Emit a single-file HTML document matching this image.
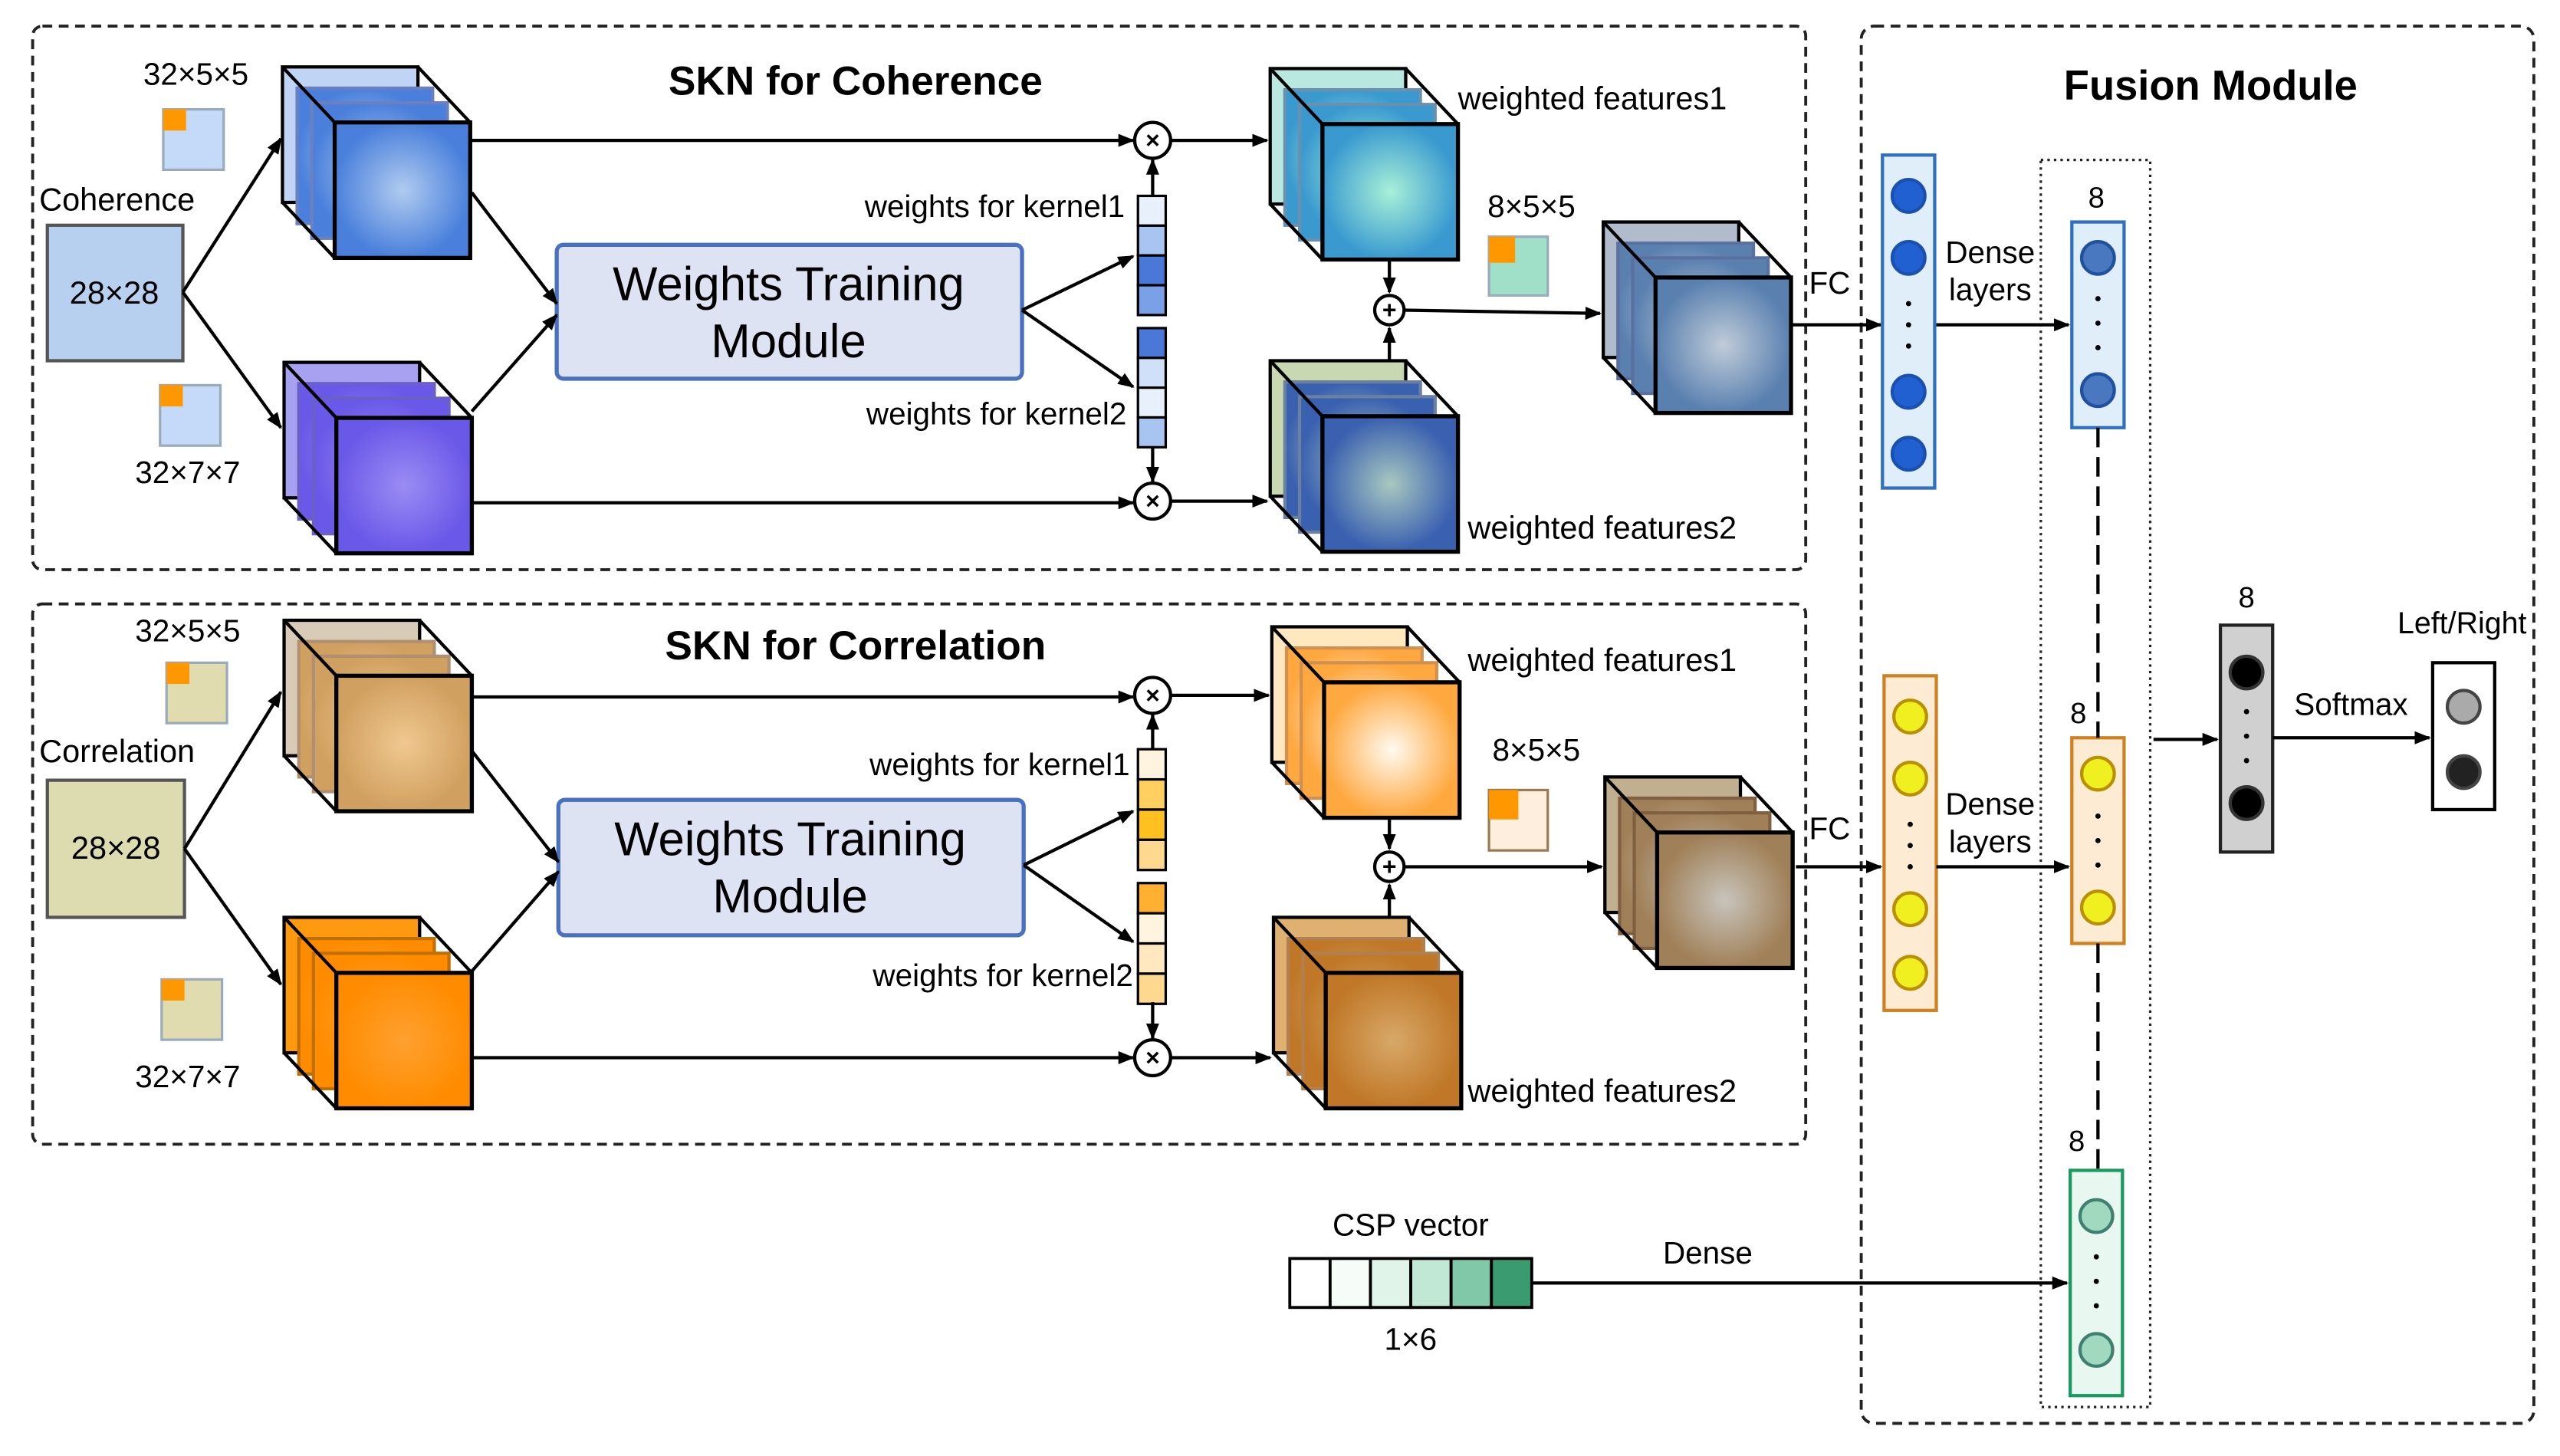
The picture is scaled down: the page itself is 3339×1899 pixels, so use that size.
<!DOCTYPE html>
<html><head><meta charset="utf-8"><style>
html,body{margin:0;padding:0;background:#fff}
svg{display:block}
text{font-family:"Liberation Sans",Arial,sans-serif;fill:#000}
</style></head><body>
<svg id="s" xmlns="http://www.w3.org/2000/svg" width="3339" height="1899" viewBox="0 0 1568 892" preserveAspectRatio="none">
<defs>
<marker id="ar" markerWidth="10" markerHeight="8" refX="9" refY="4" orient="auto" markerUnits="userSpaceOnUse"><path d="M0,0 L10,4 L0,8 Z" fill="#000"/></marker>
</defs>
<rect width="1568" height="892" fill="#fff"/>
<g fill="none" stroke="#222" stroke-width="1.8" stroke-dasharray="6,4">
<rect x="20" y="16" width="1086" height="333" rx="6"/>
<rect x="20" y="370" width="1086" height="331" rx="6"/>
<rect x="1140" y="16" width="412" height="856" rx="8"/>
</g>
<rect x="1250" y="98" width="67" height="764" fill="none" stroke="#222" stroke-width="1.5" stroke-dasharray="1.5,2.5"/>
<g id="g"></g>
</svg>
<script>
const NS="http://www.w3.org/2000/svg",G=document.getElementById('g'),D=document.querySelector('defs');
let gid=0;
function el(t,a,txt){const e=document.createElementNS(NS,t);for(const k in a)e.setAttribute(k,a[k]);if(txt!=null)e.textContent=txt;G.appendChild(e);return e;}
function grad(c1,c2){const id='gr'+(gid++);const r=document.createElementNS(NS,'radialGradient');r.setAttribute('id',id);r.innerHTML=`<stop offset="0" stop-color="${c1}"/><stop offset="1" stop-color="${c2}"/>`;D.appendChild(r);return `url(#${id})`;}
function T(x,y,s,size,anchor,weight){el('text',{x:x,y:y,'font-size':size||19,'text-anchor':anchor||'start','font-weight':weight||'normal'},s);}
function line(pts,arrow,dash,w){el('polyline',{points:pts,fill:'none',stroke:'#000','stroke-width':w||2,'marker-end':arrow?'url(#ar)':'', 'stroke-dasharray':dash||''});}
function cube(bx,by,c1,c2,back,mid){
 const s=83,o=32;
 el('rect',{x:bx,y:by,width:s,height:s,fill:back,stroke:'#000','stroke-width':2});
 const f1=grad(c1,c2);
 for(const d of [9,18]) el('rect',{x:bx+d,y:by+d+4,width:s,height:s,fill:f1,stroke:mid,'stroke-width':2});
 const f=grad(c1,c2);
 el('rect',{x:bx+o,y:by+o+2,width:s,height:s,fill:f,stroke:'#000','stroke-width':2.5});
 line(`${bx},${by} ${bx+o},${by+o+2}`,0,0,2);line(`${bx+s},${by} ${bx+s+o},${by+o+2}`,0,0,2);line(`${bx},${by+s} ${bx+o},${by+s+o+2}`,0,0,2);
}
function mult(x,y){el('circle',{cx:x,cy:y,r:11,fill:'#fff',stroke:'#000','stroke-width':2});T(x,y+5,'×',15,'middle','bold');}
function plus(x,y){el('circle',{cx:x,cy:y,r:9,fill:'#fff',stroke:'#000','stroke-width':2});T(x,y+5,'+',15,'middle','bold');}
function vec(x,y,h,cols,stroke){const n=cols.length,ch=h/n;cols.forEach((c,i)=>el('rect',{x:x,y:y+i*ch,width:17,height:ch,fill:c,stroke:stroke||'#000','stroke-width':1.5}));}
function kicon(x,y,fill){el('rect',{x:x,y:y,width:37,height:37,fill:fill,stroke:'#9ab','stroke-width':1.5});el('rect',{x:x,y:y,width:14,height:13,fill:'#ff9800'});}
function col(x,y,w,h,fill,stroke,cy,cf,cs){el('rect',{x:x,y:y,width:w,height:h,fill:fill,stroke:stroke,'stroke-width':2});cy.forEach(c=>el('circle',{cx:x+w/2,cy:c,r:10,fill:cf,stroke:cs,'stroke-width':2}));}
function dots(x,y1,y2){for(let i=0;i<3;i++)el('circle',{cx:x,cy:y1+(y2-y1)*i/2,r:1.6,fill:'#000'});}

// ===== Top SKN =====
T(524,58,'SKN for Coherence',25,'middle','bold');
T(24,129,'Coherence',19.5);
el('rect',{x:29,y:138,width:83,height:83,fill:'#b8d0f0',stroke:'#555','stroke-width':2});T(70,186,'28×28',19.5,'middle');
T(120,52,'32×5×5',19,'middle');kicon(100,67,'#c4daf8');
kicon(98,236,'#c4daf8');T(115,296,'32×7×7',19,'middle');
line('112,179 172,85',1);line('112,179 172,262',1);
cube(173,41,'#b0cbf0','#4a80dc','#c0d5f5','#6a80c0');
cube(174,222,'#9a8cf4','#6a58e8','#a8a0f0','#6a60c8');
el('rect',{x:341,y:150,width:285,height:82,rx:4,fill:'#dde3f2',stroke:'#4a70c0','stroke-width':2.5});
T(483,184,'Weights Training',29,'middle');T(483,219,'Module',29,'middle');
line('289,118 341,186',1);line('289,252 341,193',1);
line('289,86 694,86',1);line('289,308 694,308',1);
mult(706,86);mult(706,307);
T(689,133,'weights for kernel1',19,'end');T(690,260,'weights for kernel2',19,'end');
vec(697,120,73,['#e8f0fc','#a8c4f0','#4a78d8','#7aa0e8']);
vec(697,201,73,['#4a78d8','#d0e0f8','#e8f0fc','#a8c4f0']);
line('626,190 694,157',1);line('626,190 694,237',1);
line('706,120 706,98',1);line('706,274 706,295',1);
line('717,86 776,86',1);line('717,307 776,307',1);
cube(778,42,'#a8f0d8','#3a9ad0','#b8e8e0','#6a90b0');
line('851,221 851,201',1);
cube(778,221,'#a8c8c0','#3a60b0','#c8d8b0','#6a80a0');
T(893,67,'weighted features1',19.5);T(899,330,'weighted features2',19.5);
T(938,133,'8×5×5',19,'middle');
el('rect',{x:912,y:145,width:36,height:36,fill:'#a0e0c8',stroke:'#9ab','stroke-width':1.5});el('rect',{x:912,y:145,width:16,height:16,fill:'#ff9800'});
line('851,160 851,179',1);
plus(851,190);line('860,190 980,192',1);
cube(982,136,'#c0ccd8','#5a80b0','#b0bccc','#5a70a0');
T(1108,180,'FC',19);line('1098,199 1152,199',1);

// ===== Bottom SKN =====
T(524,404,'SKN for Correlation',25,'middle','bold');
T(24,467,'Correlation',19.5);
el('rect',{x:29,y:478,width:84,height:84,fill:'#dcdcb0',stroke:'#555','stroke-width':2});T(71,526,'28×28',19.5,'middle');
T(115,393,'32×5×5',19,'middle');kicon(102,406,'#e0dcb0');
kicon(99,600,'#e0dcb0');T(115,666,'32×7×7',19,'middle');
line('113,520 172,424',1);line('113,520 172,603',1);
cube(174,380,'#f0c890','#d0a060','#d8ccb8','#b09070');
cube(174,562,'#ffa030','#ff8c00','#ff9a10','#c07000');
el('rect',{x:342,y:490,width:285,height:83,rx:4,fill:'#dde3f2',stroke:'#4a70c0','stroke-width':2.5});
T(484,524,'Weights Training',29,'middle');T(484,559,'Module',29,'middle');
line('289,460 342,528',1);line('289,595 342,534',1);
line('289,427 694,427',1);line('289,648 694,648',1);
mult(706,426);mult(706,648);
T(692,475,'weights for kernel1',19,'end');T(694,604,'weights for kernel2',19,'end');
vec(697,459,74,['#fff4e0','#ffd060','#ffc020','#ffd890']);
vec(697,541,74,['#ffb030','#fff4e0','#ffe8c0','#ffd890']);
line('627,530 694,497',1);line('627,530 694,577',1);
line('706,459 706,438',1);line('706,614 706,636',1);
line('717,426 777,426',1);line('717,648 778,648',1);
cube(779,384,'#fffaf0','#ffa840','#ffe8c0','#d09050');
line('851,562 851,542',1);
cube(780,562,'#d8a868','#c07828','#e0b070','#b08050');
T(899,411,'weighted features1',19.5);T(899,675,'weighted features2',19.5);
T(941,466,'8×5×5',19,'middle');
el('rect',{x:912,y:484,width:36,height:37,fill:'#fdeedd',stroke:'#9a7a50','stroke-width':1.5});el('rect',{x:912,y:484,width:18,height:18,fill:'#ff9800'});
line('851,500 851,520',1);
plus(851,531);line('860,531 981,531',1);
cube(983,476,'#c8c4bc','#a08058','#c0b090','#806040');
T(1108,514,'FC',19);line('1100,531 1152,531',1);

// ===== Fusion =====
T(1354,61,'Fusion Module',25.5,'middle','bold');
col(1153,95,32,204,'#e0eefa','#3070c0',[120,158,240,278],'#2060d0','#1a50b0');dots(1169,186,212);
col(1154,414,32,205,'#fdebd3','#d08020',[439,477,557,596],'#f0f020','#b89000');dots(1170,505,531);
T(1219,161,'Dense',19,'middle');T(1219,184,'layers',19,'middle');
line('1186,199 1267,199',1);
T(1219,499,'Dense',19,'middle');T(1219,522,'layers',19,'middle');
line('1186,531 1267,531',1);
T(1284,127,'8',18,'middle');col(1269,136,32,126,'#e0eefa','#3070c0',[158,239],'#4a78c0','#2050a0');dots(1285,183,213);
T(1273,443,'8',18,'middle');col(1269,452,32,126,'#fdebd3','#d08020',[474,556],'#f0f020','#b89000');dots(1285,500,530);
T(1272,705,'8',18,'middle');col(1268,717,32,138,'#e8f8f0','#1a9a60',[745,827],'#a0d8c0','#408070');dots(1284,770,800);
line('1285,262 1285,452',0,'12,6');line('1285,578 1285,717',0,'12,6');
line('1319,453 1358,453',1);
T(1376,372,'8',18,'middle');
col(1360,383,32,139,'#d0d0d0','#222',[412,492],'#000','#333');dots(1376,436,466);
T(1440,438,'Softmax',19,'middle');line('1392,452 1488,452',1);
T(1508,388,'Left/Right',18.5,'middle');
el('rect',{x:1490,y:406,width:38,height:90,fill:'#fff',stroke:'#000','stroke-width':2});
el('circle',{cx:1509,cy:433,r:10,fill:'#aaa',stroke:'#444','stroke-width':2});
el('circle',{cx:1509,cy:473,r:10,fill:'#222',stroke:'#444','stroke-width':2});

// CSP
T(864,757,'CSP vector',19,'middle');
(function(){const c=['#fff','#f6fcf8','#e0f4ea','#c0e8d4','#80c8a8','#3a9a70'];c.forEach((f,i)=>el('rect',{x:790+i*24.7,y:771,width:24.7,height:30,fill:f,stroke:'#000','stroke-width':1.8}));})();
T(864,827,'1×6',19,'middle');
T(1046,774,'Dense',19,'middle');
line('938,786 1266,786',1);
</script>
</body></html>
